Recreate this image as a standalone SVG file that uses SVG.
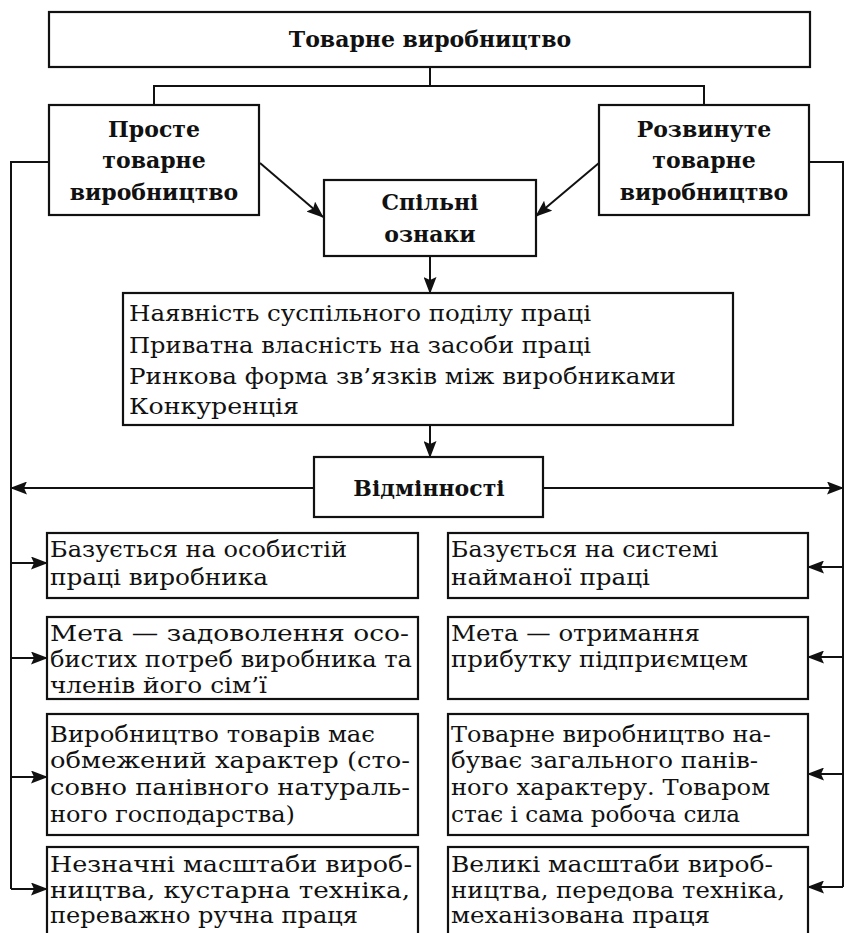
<svg xmlns="http://www.w3.org/2000/svg" width="846" height="933" viewBox="0 0 846 933">
<style>
  .box { fill: #fff; stroke: #111; stroke-width: 2.2; }
  .ln { fill: none; stroke: #111; stroke-width: 2; }
  .arr { fill: none; stroke: #111; stroke-width: 2; marker-end: url(#ah); }
  .b { font-family: "DejaVu Serif", "Liberation Serif", serif; font-weight: bold; font-size: 22px; fill: #111; text-anchor: middle; }
  .f { font-family: "DejaVu Serif", "Liberation Serif", serif; font-size: 23px; fill: #111; }
  .t { font-family: "DejaVu Serif", "Liberation Serif", serif; font-size: 22px; fill: #111; }
</style>
<defs>
  <marker id="ah" markerUnits="userSpaceOnUse" markerWidth="17" markerHeight="13" refX="16" refY="6.5" orient="auto">
    <path d="M0,0 L17,6.5 L0,13 L3,6.5 Z" fill="#111"/>
  </marker>
</defs>
<rect width="846" height="933" fill="#fff"/>

<g id="connectors">
  <line class="ln" x1="430" y1="67" x2="430" y2="86"/>
  <polyline class="ln" points="154,105 154,86 704,86 704,105"/>
  <polyline class="ln" points="49,162 11,162 11,889"/>
  <polyline class="ln" points="809,162 843,162 843,887"/>
  <line class="arr" x1="260" y1="163" x2="323" y2="217"/>
  <line class="arr" x1="599" y1="163" x2="536" y2="216"/>
  <line class="arr" x1="430" y1="256" x2="430" y2="293"/>
  <line class="arr" x1="430" y1="425" x2="430" y2="457"/>
  <line class="arr" x1="314" y1="488" x2="11" y2="488"/>
  <line class="arr" x1="543" y1="488" x2="843" y2="488"/>
  <line class="arr" x1="11" y1="563" x2="47" y2="563"/>
  <line class="arr" x1="11" y1="658" x2="47" y2="658"/>
  <line class="arr" x1="11" y1="777" x2="47" y2="777"/>
  <line class="arr" x1="11" y1="889" x2="47" y2="889"/>
  <line class="arr" x1="843" y1="567" x2="808" y2="567"/>
  <line class="arr" x1="843" y1="657" x2="808" y2="657"/>
  <line class="arr" x1="843" y1="774" x2="808" y2="774"/>
  <line class="arr" x1="843" y1="887" x2="808" y2="887"/>
</g>

<g id="top">
  <rect class="box" x="49" y="12" width="761" height="55"/>
  <text class="b" x="430" y="47">Товарне виробництво</text>
</g>

<g id="simple">
  <rect class="box" x="49" y="105" width="210" height="110"/>
  <text class="b" x="154" y="137">Просте</text>
  <text class="b" x="154" y="168">товарне</text>
  <text class="b" x="154" y="200">виробництво</text>
</g>

<g id="developed">
  <rect class="box" x="599" y="105" width="210" height="110"/>
  <text class="b" x="704" y="137">Розвинуте</text>
  <text class="b" x="704" y="168">товарне</text>
  <text class="b" x="704" y="200">виробництво</text>
</g>

<g id="common">
  <rect class="box" x="324" y="180" width="212" height="76"/>
  <text class="b" x="430" y="210">Спільні</text>
  <text class="b" x="430" y="242">ознаки</text>
</g>

<g id="features">
  <rect class="box" x="123" y="293" width="610" height="132"/>
  <text class="f" x="129" y="321" textLength="462" lengthAdjust="spacingAndGlyphs">Наявність суспільного поділу праці</text>
  <text class="f" x="129" y="353" textLength="462" lengthAdjust="spacingAndGlyphs">Приватна власність на засоби праці</text>
  <text class="f" x="129" y="384" textLength="547" lengthAdjust="spacingAndGlyphs">Ринкова форма зв’язків між виробниками</text>
  <text class="f" x="129" y="414" textLength="170" lengthAdjust="spacingAndGlyphs">Конкуренція</text>
</g>

<g id="differences">
  <rect class="box" x="314" y="457" width="229" height="60"/>
  <text class="b" x="429" y="496">Відмінності</text>
</g>

<g id="left1">
  <rect class="box" x="47" y="533" width="371" height="65"/>
  <text class="t" x="50" y="557" textLength="297" lengthAdjust="spacingAndGlyphs">Базується на особистій</text>
  <text class="t" x="50" y="585" textLength="218" lengthAdjust="spacingAndGlyphs">праці виробника</text>
</g>
<g id="left2">
  <rect class="box" x="47" y="617" width="371" height="82"/>
  <text class="t" x="50" y="641" textLength="359" lengthAdjust="spacingAndGlyphs">Мета — задоволення осо-</text>
  <text class="t" x="50" y="667" textLength="362" lengthAdjust="spacingAndGlyphs">бистих потреб виробника та</text>
  <text class="t" x="50" y="693" textLength="217" lengthAdjust="spacingAndGlyphs">членів його сім’ї</text>
</g>
<g id="left3">
  <rect class="box" x="47" y="714" width="371" height="121"/>
  <text class="t" x="50" y="742" textLength="325" lengthAdjust="spacingAndGlyphs">Виробництво товарів має</text>
  <text class="t" x="50" y="768" textLength="360" lengthAdjust="spacingAndGlyphs">обмежений характер (сто-</text>
  <text class="t" x="50" y="795" textLength="360" lengthAdjust="spacingAndGlyphs">совно панівного натураль-</text>
  <text class="t" x="50" y="822" textLength="245" lengthAdjust="spacingAndGlyphs">ного господарства)</text>
</g>
<g id="left4">
  <rect class="box" x="47" y="847" width="371" height="100"/>
  <text class="t" x="50" y="872" textLength="362" lengthAdjust="spacingAndGlyphs">Незначні масштаби вироб-</text>
  <text class="t" x="50" y="898" textLength="360" lengthAdjust="spacingAndGlyphs">ництва, кустарна техніка,</text>
  <text class="t" x="50" y="923" textLength="308" lengthAdjust="spacingAndGlyphs">переважно ручна праця</text>
</g>

<g id="right1">
  <rect class="box" x="448" y="533" width="360" height="65"/>
  <text class="t" x="451" y="557" textLength="267" lengthAdjust="spacingAndGlyphs">Базується на системі</text>
  <text class="t" x="451" y="585" textLength="199" lengthAdjust="spacingAndGlyphs">найманої праці</text>
</g>
<g id="right2">
  <rect class="box" x="448" y="617" width="360" height="82"/>
  <text class="t" x="451" y="641" textLength="249" lengthAdjust="spacingAndGlyphs">Мета — отримання</text>
  <text class="t" x="451" y="667" textLength="297" lengthAdjust="spacingAndGlyphs">прибутку підприємцем</text>
</g>
<g id="right3">
  <rect class="box" x="448" y="714" width="360" height="121"/>
  <text class="t" x="451" y="742" textLength="320" lengthAdjust="spacingAndGlyphs">Товарне виробництво на-</text>
  <text class="t" x="451" y="768" textLength="307" lengthAdjust="spacingAndGlyphs">буває загального панів-</text>
  <text class="t" x="451" y="795" textLength="319" lengthAdjust="spacingAndGlyphs">ного характеру. Товаром</text>
  <text class="t" x="451" y="822" textLength="289" lengthAdjust="spacingAndGlyphs">стає і сама робоча сила</text>
</g>
<g id="right4">
  <rect class="box" x="448" y="847" width="360" height="100"/>
  <text class="t" x="451" y="872" textLength="322" lengthAdjust="spacingAndGlyphs">Великі масштаби вироб-</text>
  <text class="t" x="451" y="898" textLength="334" lengthAdjust="spacingAndGlyphs">ництва, передова техніка,</text>
  <text class="t" x="451" y="923" textLength="259" lengthAdjust="spacingAndGlyphs">механізована праця</text>
</g>
</svg>
